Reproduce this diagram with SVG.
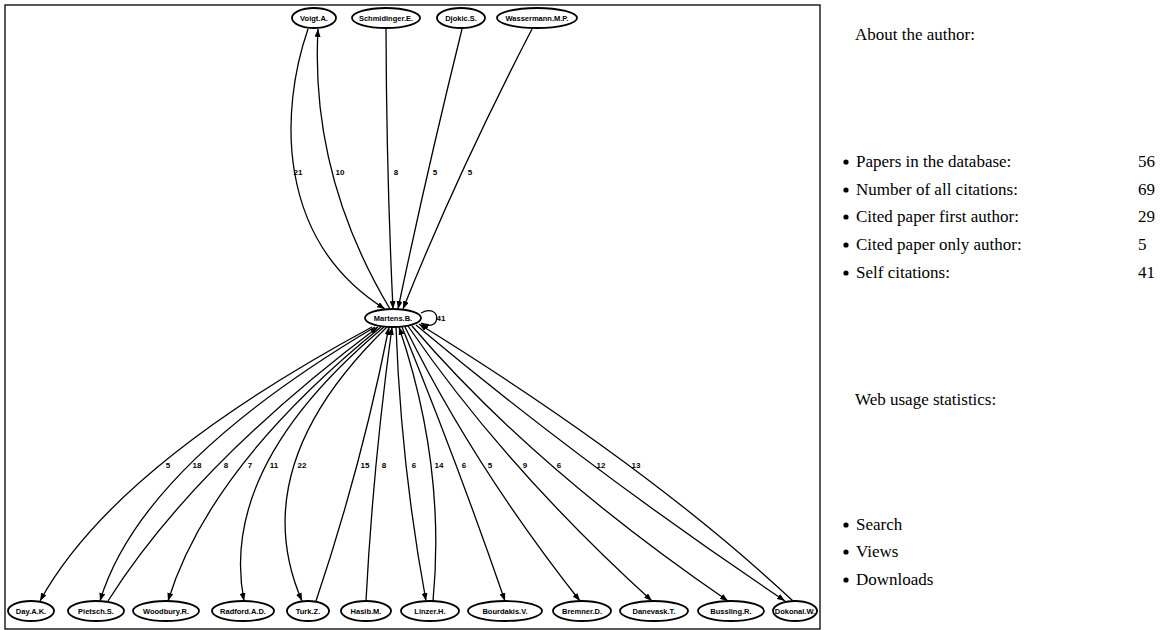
<svg xmlns="http://www.w3.org/2000/svg" width="1168" height="630" viewBox="0 0 1168 630">
<style>
.n ellipse{fill:#fff;stroke:#000;stroke-width:1.8}
.n text{font-family:"Liberation Sans",Arial,sans-serif;font-weight:bold;font-size:7.5px;text-anchor:middle;fill:#000}
.e path{fill:none;stroke:#000;stroke-width:1.3}
.lbl{font-family:"Liberation Sans",Arial,sans-serif;font-weight:bold;font-size:8px;text-anchor:middle;fill:#000}
.side{font-family:"Liberation Serif","Times New Roman",serif;font-size:17px;fill:#000}
</style>
<defs>
<marker id="ah" markerUnits="userSpaceOnUse" markerWidth="8" markerHeight="6" refX="8" refY="3" orient="auto">
<path d="M0,0 L8,3 L0,6 z" fill="#000"/>
</marker>
</defs>
<rect x="5" y="5" width="815" height="624" fill="#fff" stroke="#000" stroke-width="1.3"/>
<g id="connectors" class="e">
<path d="M308,29 C280,110 275,240 385,309" marker-end="url(#ah)"/>
<path d="M390,309 Q310,175 318,29" marker-end="url(#ah)"/>
<path d="M386,29 Q386.5,175 393,309" marker-end="url(#ah)"/>
<path d="M462,29 Q426,175 398,309" marker-end="url(#ah)"/>
<path d="M532,29 Q456.5,175 403,309" marker-end="url(#ah)"/>
<path d="M421,313 C442,302 442,334 421,323" marker-end="url(#ah)"/>
<path d="M372,327 Q114,466 40,601" marker-end="url(#ah)"/>
<path d="M375,327 Q140.5,466 100,601" marker-end="url(#ah)"/>
<path d="M108,601 Q193,466 378,327" marker-end="url(#ah)"/>
<path d="M381,327 Q209.5,466 168,601" marker-end="url(#ah)"/>
<path d="M384,327 Q218,466 244,601" marker-end="url(#ah)"/>
<path d="M387,327 Q243.5,466 302,601" marker-end="url(#ah)"/>
<path d="M316,601 Q361.5,466 389,327" marker-end="url(#ah)"/>
<path d="M366,601 Q373,466 392,327" marker-end="url(#ah)"/>
<path d="M396,327 Q401,466 426,601" marker-end="url(#ah)"/>
<path d="M433,601 Q446,466 399,327" marker-end="url(#ah)"/>
<path d="M402,327 Q458.5,466 505,601" marker-end="url(#ah)"/>
<path d="M405,327 Q473.5,466 580,601" marker-end="url(#ah)"/>
<path d="M408,326 Q504,466.5 652,601" marker-end="url(#ah)"/>
<path d="M412,326 Q532,466.5 728,601" marker-end="url(#ah)"/>
<path d="M416,325 Q585.5,467 785,601" marker-end="url(#ah)"/>
<path d="M793,601 Q650,467 419,324" marker-end="url(#ah)"/>
</g>
<g id="edge-labels">
<text class="lbl" x="298" y="175">21</text>
<text class="lbl" x="340" y="175">10</text>
<text class="lbl" x="396" y="175">8</text>
<text class="lbl" x="435" y="175">5</text>
<text class="lbl" x="470" y="175">5</text>
<text class="lbl" x="441" y="321">41</text>
<text class="lbl" x="168" y="468">5</text>
<text class="lbl" x="197" y="468">18</text>
<text class="lbl" x="226" y="468">8</text>
<text class="lbl" x="250" y="468">7</text>
<text class="lbl" x="274" y="468">11</text>
<text class="lbl" x="302" y="468">22</text>
<text class="lbl" x="365" y="468">15</text>
<text class="lbl" x="384" y="468">8</text>
<text class="lbl" x="414" y="468">6</text>
<text class="lbl" x="439" y="468">14</text>
<text class="lbl" x="464" y="468">6</text>
<text class="lbl" x="490" y="468">5</text>
<text class="lbl" x="525" y="468">9</text>
<text class="lbl" x="559" y="468">6</text>
<text class="lbl" x="601" y="468">12</text>
<text class="lbl" x="636" y="468">13</text>
</g>
<g id="n-voigt" class="n"><ellipse cx="314" cy="18" rx="22" ry="10"/><text x="314" y="20.5">Voigt.A.</text></g>
<g id="n-schmidinger" class="n"><ellipse cx="386" cy="18" rx="34" ry="10"/><text x="386" y="20.5">Schmidinger.E.</text></g>
<g id="n-djokic" class="n"><ellipse cx="461" cy="18" rx="24" ry="10"/><text x="461" y="20.5">Djokic.S.</text></g>
<g id="n-wassermann" class="n"><ellipse cx="537" cy="18" rx="40" ry="10"/><text x="537" y="20.5">Wassermann.M.P.</text></g>
<g id="n-martens" class="n"><ellipse cx="393" cy="318" rx="28" ry="9"/><text x="393" y="320.5">Martens.B.</text></g>
<g id="n-day" class="n"><ellipse cx="31" cy="611" rx="23" ry="10"/><text x="31" y="613.5">Day.A.K.</text></g>
<g id="n-pietsch" class="n"><ellipse cx="96" cy="611" rx="28" ry="10"/><text x="96" y="613.5">Pietsch.S.</text></g>
<g id="n-woodbury" class="n"><ellipse cx="166" cy="611" rx="33" ry="10"/><text x="166" y="613.5">Woodbury.R.</text></g>
<g id="n-radford" class="n"><ellipse cx="243" cy="611" rx="31" ry="10"/><text x="243" y="613.5">Radford.A.D.</text></g>
<g id="n-turk" class="n"><ellipse cx="308" cy="611" rx="21" ry="10"/><text x="308" y="613.5">Turk.Z.</text></g>
<g id="n-hasib" class="n"><ellipse cx="366" cy="611" rx="25" ry="10"/><text x="366" y="613.5">Hasib.M.</text></g>
<g id="n-linzer" class="n"><ellipse cx="430" cy="611" rx="29" ry="10"/><text x="430" y="613.5">Linzer.H.</text></g>
<g id="n-bourdakis" class="n"><ellipse cx="505" cy="611" rx="37" ry="10"/><text x="505" y="613.5">Bourdakis.V.</text></g>
<g id="n-bremner" class="n"><ellipse cx="582" cy="611" rx="29" ry="10"/><text x="582" y="613.5">Bremner.D.</text></g>
<g id="n-danevask" class="n"><ellipse cx="654" cy="611" rx="34" ry="10"/><text x="654" y="613.5">Danevask.T.</text></g>
<g id="n-bussling" class="n"><ellipse cx="731" cy="611" rx="33" ry="10"/><text x="731" y="613.5">Bussling.R.</text></g>
<g id="n-dokonal" class="n"><ellipse cx="795" cy="611" rx="22" ry="10"/><text x="795" y="613.5">Dokonal.W.</text></g>
<g id="sidebar">
<text class="side" x="855" y="40">About the author:</text>
<circle cx="846" cy="162" r="2.6"/><text class="side" x="856" y="167">Papers in the database:</text><text class="side" x="1138" y="167">56</text>
<circle cx="846" cy="190" r="2.6"/><text class="side" x="856" y="195">Number of all citations:</text><text class="side" x="1138" y="195">69</text>
<circle cx="846" cy="217" r="2.6"/><text class="side" x="856" y="222">Cited paper first author:</text><text class="side" x="1138" y="222">29</text>
<circle cx="846" cy="245" r="2.6"/><text class="side" x="856" y="250">Cited paper only author:</text><text class="side" x="1138" y="250">5</text>
<circle cx="846" cy="273" r="2.6"/><text class="side" x="856" y="278">Self citations:</text><text class="side" x="1138" y="278">41</text>
<text class="side" x="855" y="405">Web usage statistics:</text>
<circle cx="846" cy="525" r="2.6"/><text class="side" x="856" y="530">Search</text>
<circle cx="846" cy="552" r="2.6"/><text class="side" x="856" y="557">Views</text>
<circle cx="846" cy="580" r="2.6"/><text class="side" x="856" y="585">Downloads</text>
</g>
</svg>
